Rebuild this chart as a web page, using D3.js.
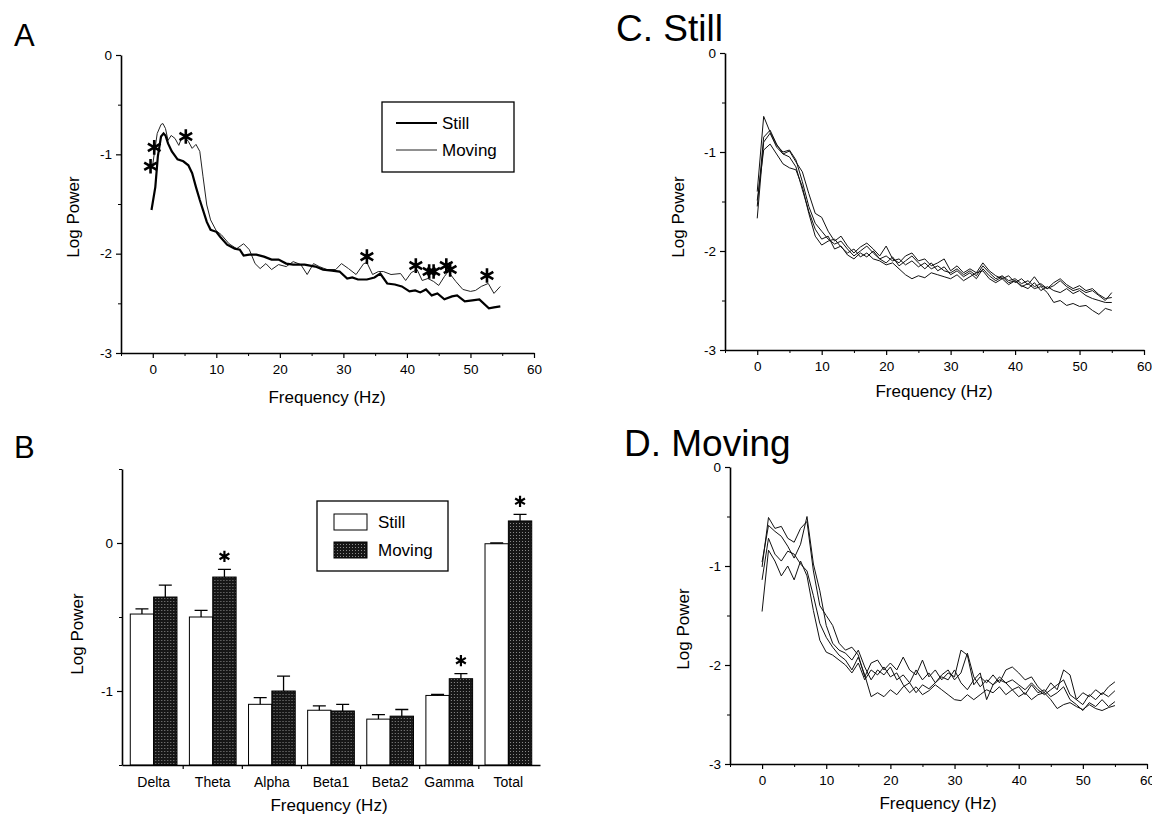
<!DOCTYPE html>
<html>
<head>
<meta charset="utf-8">
<script src="https://cdn.jsdelivr.net/npm/d3@7.9.0/dist/d3.min.js"></script>
<style>
body { margin: 0; background: #fff; }
svg { display: block; font-family: "Liberation Sans", Arial, sans-serif; }
</style>
</head>
<body>
<svg id="fig" width="1152" height="814"></svg>
<script>
// ---- Panel A: mean spectra, [frequency, log power] ----
const stillA = [
  [-0.2,-1.56],[0.4,-1.33],[0.8,-1.02],[1.3,-0.82],[1.7,-0.79],[2.0,-0.81],[2.4,-0.89],[3.0,-0.97],
  [3.9,-1.05],[4.8,-1.07],[5.6,-1.11],[6.2,-1.19],[6.8,-1.33],[7.4,-1.46],[7.9,-1.56],[8.5,-1.68],
  [9.1,-1.76],[10,-1.78],[10.6,-1.83],[11.7,-1.91],[12.9,-1.95],[13.7,-1.96],[14.3,-2.02],[15.2,-2.01],
  [16.3,-2.01],[17.5,-2.03],[18.7,-2.06],[19.8,-2.06],[21,-2.10],[22.1,-2.11],[23.9,-2.11],[25.6,-2.13],
  [26.8,-2.16],[28.2,-2.17],[29.4,-2.18],[30.6,-2.25],[31.4,-2.24],[32.3,-2.26],[33.7,-2.26],[34.9,-2.24],
  [35.8,-2.20],[36.9,-2.30],[38.1,-2.31],[39.2,-2.33],[40.4,-2.38],[41.3,-2.37],[42.1,-2.39],[43,-2.36],
  [43.9,-2.42],[44.8,-2.40],[45.9,-2.46],[47.1,-2.43],[47.9,-2.42],[49.1,-2.48],[50.3,-2.47],[51.4,-2.46],
  [52.9,-2.55],[53.7,-2.54],[54.7,-2.53]
];
const movingA = [
  [0,-1.10],[0.7,-0.79],[1.3,-0.70],[1.6,-0.69],[2.0,-0.74],[2.4,-0.86],[2.9,-0.81],[3.5,-0.84],
  [4.1,-0.91],[4.5,-0.84],[5.0,-0.82],[5.6,-0.87],[6.2,-0.94],[6.8,-0.90],[7.4,-0.97],[7.9,-1.22],
  [8.5,-1.51],[9.1,-1.66],[10,-1.77],[10.8,-1.81],[12,-1.90],[13.2,-1.95],[14.3,-1.90],[15.2,-1.96],
  [16.1,-2.10],[16.9,-2.15],[17.8,-2.10],[18.7,-2.16],[19.8,-2.11],[21,-2.13],[22.1,-2.08],[23.3,-2.11],
  [24.3,-2.21],[25.3,-2.10],[26.2,-2.13],[27.4,-2.16],[28.8,-2.16],[29.7,-2.10],[30.8,-2.15],[32,-2.21],
  [33.2,-2.10],[33.7,-2.09],[34.6,-2.21],[35.5,-2.18],[36.3,-2.18],[37.5,-2.21],[39,-2.20],[39.8,-2.27],
  [40.7,-2.19],[41.6,-2.16],[42.4,-2.27],[43.3,-2.25],[44.2,-2.28],[45,-2.32],[45.9,-2.23],[46.5,-2.18],
  [47.7,-2.28],[48.8,-2.36],[50,-2.38],[50.8,-2.37],[51.7,-2.33],[52.8,-2.30],[53.7,-2.40],[54.7,-2.33]
];
const starsA = [
  [-0.35,-1.12],[0.23,-0.93],[5.2,-0.82],[33.7,-2.03],[41.4,-2.12],
  [43.5,-2.18],[44.2,-2.18],[46.2,-2.12],[46.8,-2.16],[52.6,-2.22]
];

// ---- Panel B: band power, mean and error ----
const bands = ['Delta', 'Theta', 'Alpha', 'Beta1', 'Beta2', 'Gamma', 'Total'];
const stillMean = [-0.48, -0.50, -1.09, -1.13, -1.19, -1.03, -0.005];
const stillErr = [0.035, 0.045, 0.045, 0.03, 0.03, 0.007, 0.005];
const movingMean = [-0.365, -0.23, -1.00, -1.135, -1.17, -0.917, 0.149];
const movingErr = [0.08, 0.052, 0.10, 0.045, 0.045, 0.034, 0.045];
const starBands = ['Theta', 'Gamma', 'Total'];

// ---- Panels C and D: individual spectra at 1 Hz steps ----
const freqs = [0,1,2,3,4,5,6,7,8,9,10,11,12,13,14,15,16,17,18,19,20,21,22,23,24,25,26,27,
  28,29,30,31,32,33,34,35,36,37,38,39,40,41,42,43,44,45,46,47,48,49,50,51,52,53,54,55];

const stillRuns = [
  [-1.40,-0.64,-0.80,-0.93,-1.00,-0.98,-1.08,-1.30,-1.55,-1.72,-1.80,-1.88,-1.93,-1.90,-1.98,-2.05,
   -2.00,-1.95,-2.02,-2.08,-2.05,-2.10,-2.08,-2.14,-2.10,-2.16,-2.12,-2.18,-2.15,-2.20,-2.22,-2.18,
   -2.24,-2.20,-2.25,-2.15,-2.22,-2.28,-2.25,-2.30,-2.28,-2.33,-2.30,-2.36,-2.33,-2.38,-2.35,-2.30,
   -2.36,-2.40,-2.38,-2.42,-2.40,-2.45,-2.50,-2.42],
  [-1.55,-0.85,-0.78,-0.92,-1.02,-0.99,-1.10,-1.20,-1.42,-1.62,-1.66,-1.80,-1.90,-1.85,-1.95,-2.02,
   -1.96,-1.92,-1.98,-2.05,-1.95,-2.08,-2.12,-2.05,-2.02,-2.10,-2.08,-2.15,-2.12,-2.08,-2.20,-2.15,
   -2.22,-2.18,-2.22,-2.12,-2.20,-2.25,-2.28,-2.25,-2.32,-2.28,-2.34,-2.26,-2.35,-2.38,-2.32,-2.28,
   -2.34,-2.38,-2.35,-2.40,-2.38,-2.44,-2.48,-2.47],
  [-1.67,-0.90,-0.81,-0.95,-1.02,-1.05,-1.15,-1.38,-1.60,-1.78,-1.88,-1.85,-1.98,-1.95,-2.04,-2.08,
   -2.02,-2.06,-2.00,-2.08,-2.12,-2.06,-2.15,-2.10,-2.05,-2.12,-2.18,-2.12,-2.20,-2.16,-2.24,-2.20,
   -2.26,-2.22,-2.28,-2.18,-2.25,-2.30,-2.26,-2.32,-2.30,-2.35,-2.38,-2.32,-2.40,-2.36,-2.40,-2.42,
   -2.38,-2.43,-2.40,-2.45,-2.48,-2.50,-2.52,-2.52],
  [-1.49,-0.98,-0.92,-1.02,-1.12,-1.16,-1.18,-1.35,-1.62,-1.85,-1.94,-1.90,-1.88,-1.96,-2.02,-1.98,
   -2.06,-2.02,-2.08,-2.10,-2.14,-2.12,-2.18,-2.24,-2.28,-2.25,-2.27,-2.22,-2.24,-2.26,-2.28,-2.24,
   -2.30,-2.26,-2.22,-2.20,-2.28,-2.32,-2.28,-2.34,-2.30,-2.36,-2.33,-2.38,-2.36,-2.42,-2.52,-2.50,
   -2.55,-2.53,-2.56,-2.55,-2.60,-2.64,-2.58,-2.60]
];

const movingRuns = [
  [-1.01,-0.51,-0.62,-0.60,-0.72,-0.76,-0.62,-0.55,-1.05,-1.40,-1.50,-1.60,-1.78,-1.85,-1.82,-1.90,
   -2.12,-1.98,-1.95,-2.05,-1.98,-2.05,-1.92,-2.05,-2.10,-1.95,-2.12,-2.05,-2.15,-2.08,-2.12,-1.85,
   -1.90,-2.20,-2.12,-2.18,-2.10,-2.18,-2.05,-2.02,-2.08,-2.15,-2.12,-2.22,-2.28,-2.18,-2.25,-2.05,
   -2.10,-2.35,-2.28,-2.32,-2.25,-2.30,-2.22,-2.17],
  [-0.96,-0.59,-0.65,-0.70,-0.80,-0.92,-0.78,-0.50,-0.98,-1.25,-1.60,-1.78,-1.85,-1.88,-1.95,-1.85,
   -2.02,-2.15,-2.05,-2.10,-2.02,-2.15,-2.10,-2.18,-2.05,-2.15,-2.08,-2.18,-2.10,-2.05,-2.15,-2.08,
   -1.88,-2.12,-2.22,-2.15,-2.20,-2.12,-2.18,-2.15,-2.20,-2.25,-2.18,-2.25,-2.30,-2.25,-2.20,-2.15,
   -2.30,-2.35,-2.40,-2.30,-2.35,-2.28,-2.32,-2.26],
  [-1.14,-0.72,-0.88,-0.95,-0.85,-0.88,-0.98,-1.05,-1.30,-1.58,-1.72,-1.82,-1.90,-1.95,-2.05,-1.92,
   -2.10,-2.32,-2.28,-2.32,-2.25,-2.30,-2.22,-2.18,-2.28,-2.20,-2.24,-2.18,-2.12,-2.15,-2.05,-2.18,
   -2.25,-2.15,-2.08,-2.35,-2.20,-2.15,-2.18,-2.25,-2.22,-2.30,-2.20,-2.28,-2.25,-2.32,-2.28,-2.22,
   -2.35,-2.40,-2.46,-2.38,-2.42,-2.35,-2.42,-2.37],
  [-1.46,-0.84,-0.95,-1.10,-1.00,-1.14,-0.95,-1.10,-1.45,-1.75,-1.87,-1.90,-1.95,-2.00,-2.08,-1.98,
   -2.15,-2.05,-2.10,-2.02,-2.12,-2.08,-2.20,-2.28,-2.22,-2.30,-2.26,-2.20,-2.25,-2.30,-2.35,-2.36,
   -2.30,-2.35,-2.30,-2.25,-2.28,-2.22,-2.30,-2.25,-2.32,-2.28,-2.35,-2.30,-2.28,-2.35,-2.44,-2.40,
   -2.38,-2.42,-2.45,-2.40,-2.44,-2.46,-2.43,-2.41]
];

const yMajor = [0, -1, -2, -3];
const yMinor = [-0.5, -1.5, -2.5];
const xMajor = [0, 10, 20, 30, 40, 50, 60];
const xMinor = [-5, 5, 15, 25, 35, 45, 55];

const svg = d3.select('#fig');

// pattern for the stippled "Moving" bars
const defs = svg.append('defs');
const pat = defs.append('pattern')
  .attr('id', 'stipple')
  .attr('width', 3).attr('height', 3)
  .attr('patternUnits', 'userSpaceOnUse');
pat.append('rect').attr('width', 3).attr('height', 3).attr('fill', '#161616');
pat.append('rect').attr('x', 1).attr('y', 1).attr('width', 1).attr('height', 1).attr('fill', '#8a8a8a');

function styleAxis(g, size) {
  g.select('.domain').attr('stroke', '#000').attr('stroke-width', 1.6);
  g.selectAll('.tick line').attr('stroke', '#000').attr('stroke-width', 1.2);
  g.selectAll('.tick text')
    .attr('font-family', '"Liberation Sans", Arial, sans-serif')
    .attr('font-size', size)
    .attr('fill', '#000');
}

// spectrum panel (A, C, D): returns scales
function spectrumPanel(box) {
  const x = d3.scaleLinear().domain([-5, 60]).range([box.left, box.right]);
  const y = d3.scaleLinear().domain([-3, 0]).range([box.bottom, box.top]);

  const xa = svg.append('g')
    .attr('transform', `translate(0,${box.bottom})`)
    .call(d3.axisBottom(x).tickValues(xMajor).tickFormat(String).tickSize(5).tickSizeOuter(0).tickPadding(6));
  styleAxis(xa, 13.5);
  svg.append('g')
    .attr('transform', `translate(0,${box.bottom})`)
    .call(d3.axisBottom(x).tickValues(xMinor).tickFormat('').tickSize(3).tickSizeOuter(0))
    .call(g => g.select('.domain').remove())
    .call(g => g.selectAll('line').attr('stroke', '#000'));

  const ya = svg.append('g')
    .attr('transform', `translate(${box.left},0)`)
    .call(d3.axisLeft(y).tickValues(yMajor).tickFormat(String).tickSize(5).tickSizeOuter(0).tickPadding(4));
  styleAxis(ya, 13.5);
  svg.append('g')
    .attr('transform', `translate(${box.left},0)`)
    .call(d3.axisLeft(y).tickValues(yMinor).tickFormat('').tickSize(3).tickSizeOuter(0))
    .call(g => g.select('.domain').remove())
    .call(g => g.selectAll('line').attr('stroke', '#000'));

  svg.append('text')
    .attr('transform', `translate(${box.ylabX},${box.ylabY}) rotate(-90)`)
    .attr('text-anchor', 'middle')
    .attr('font-size', 17)
    .text('Log Power');
  svg.append('text')
    .attr('x', box.xlabX).attr('y', box.xlabY)
    .attr('text-anchor', 'middle')
    .attr('font-size', 17)
    .text('Frequency (Hz)');
  return { x, y };
}

// ---------- Panel A ----------
svg.append('text').attr('x', 14).attr('y', 46).attr('font-size', 31).text('A');
const A = spectrumPanel({ left: 121, right: 534, top: 55, bottom: 353,
  ylabX: 79, ylabY: 217, xlabX: 327, xlabY: 403 });
const lineA = d3.line().x(d => A.x(d[0])).y(d => A.y(d[1]));
svg.append('path').datum(movingA).attr('d', lineA)
  .attr('fill', 'none').attr('stroke', '#222').attr('stroke-width', 1);
svg.append('path').datum(stillA).attr('d', lineA)
  .attr('fill', 'none').attr('stroke', '#000').attr('stroke-width', 2.2);
svg.append('g').selectAll('path')
  .data(starsA)
  .join('path')
  .attr('transform', d => `translate(${A.x(d[0])},${A.y(d[1])})`)
  .attr('d', d3.symbol(d3.symbolAsterisk, 150))
  .attr('stroke', '#000').attr('stroke-width', 2.6).attr('fill', 'none');

// legend A
const legA = svg.append('g');
legA.append('rect').attr('x', 382).attr('y', 102).attr('width', 132).attr('height', 70)
  .attr('fill', '#fff').attr('stroke', '#000').attr('stroke-width', 1.3);
legA.append('line').attr('x1', 396).attr('x2', 437).attr('y1', 123).attr('y2', 123)
  .attr('stroke', '#000').attr('stroke-width', 2.2);
legA.append('line').attr('x1', 396).attr('x2', 437).attr('y1', 150).attr('y2', 150)
  .attr('stroke', '#222').attr('stroke-width', 1);
legA.append('text').attr('x', 442).attr('y', 129).attr('font-size', 17).text('Still');
legA.append('text').attr('x', 442).attr('y', 156).attr('font-size', 17).text('Moving');

// ---------- Panel B ----------
svg.append('text').attr('x', 14).attr('y', 458).attr('font-size', 31).text('B');
const bTop = 469, bBottom = 765, bLeft = 122, bRight = 540;
const xB = d3.scaleBand().domain(bands).range([bLeft, bRight]).paddingInner(0.21).paddingOuter(0.14);
const xSub = d3.scaleBand().domain(['still', 'moving']).range([0, xB.bandwidth()]);
const yB = d3.scaleLinear().domain([-1.5, 0.5]).range([bBottom, bTop]);

const groups = bands.map((b, i) => ({
  band: b,
  bars: [
    { key: 'still', mean: stillMean[i], err: stillErr[i] },
    { key: 'moving', mean: movingMean[i], err: movingErr[i] }
  ]
}));

const gB = svg.append('g');
const grp = gB.selectAll('g.grp').data(groups).join('g')
  .attr('class', 'grp')
  .attr('transform', d => `translate(${xB(d.band)},0)`);
grp.selectAll('rect').data(d => d.bars).join('rect')
  .attr('x', d => xSub(d.key))
  .attr('width', xSub.bandwidth())
  .attr('y', d => yB(d.mean))
  .attr('height', d => yB(-1.5) - yB(d.mean))
  .attr('fill', d => d.key === 'still' ? '#fff' : 'url(#stipple)')
  .attr('stroke', '#000').attr('stroke-width', 1);
// error bars
grp.selectAll('path.err').data(d => d.bars).join('path')
  .attr('class', 'err')
  .attr('d', d => {
    const cx = xSub(d.key) + xSub.bandwidth() / 2;
    const y0 = yB(d.mean), y1 = yB(d.mean + d.err);
    return `M${cx},${y0}V${y1}M${cx - 6.5},${y1}H${cx + 6.5}`;
  })
  .attr('stroke', '#000').attr('stroke-width', 1.3).attr('fill', 'none');
// significance stars
grp.filter(d => starBands.includes(d.band))
  .append('path')
  .attr('transform', d => {
    const m = d.bars[1];
    return `translate(${xSub('moving') + xSub.bandwidth() / 2},${yB(m.mean + m.err) - 13})`;
  })
  .attr('d', d3.symbol(d3.symbolAsterisk, 90))
  .attr('stroke', '#000').attr('stroke-width', 2.2).attr('fill', 'none');

const xaB = gB.append('g')
  .attr('transform', `translate(0,${bBottom})`)
  .call(d3.axisBottom(xB).tickSize(0).tickPadding(12).tickSizeOuter(0));
styleAxis(xaB, 14);
// tick marks between groups
gB.append('g').selectAll('line')
  .data(bands.slice(1))
  .join('line')
  .attr('x1', d => xB(d) - xB.step() * xB.paddingInner() / 2)
  .attr('x2', d => xB(d) - xB.step() * xB.paddingInner() / 2)
  .attr('y1', bBottom).attr('y2', bBottom + 4)
  .attr('stroke', '#000').attr('stroke-width', 1.2);

const yaB = gB.append('g')
  .attr('transform', `translate(${bLeft},0)`)
  .call(d3.axisLeft(yB).tickValues([0, -1]).tickFormat(String).tickSize(5).tickSizeOuter(0).tickPadding(4));
styleAxis(yaB, 13.5);
gB.append('g')
  .attr('transform', `translate(${bLeft},0)`)
  .call(d3.axisLeft(yB).tickValues([0.5, -0.5, -1.5]).tickFormat('').tickSize(3).tickSizeOuter(0))
  .call(g => g.select('.domain').remove())
  .call(g => g.selectAll('line').attr('stroke', '#000'));

svg.append('text')
  .attr('transform', 'translate(83,634) rotate(-90)')
  .attr('text-anchor', 'middle').attr('font-size', 17).text('Log Power');
svg.append('text').attr('x', 329).attr('y', 811)
  .attr('text-anchor', 'middle').attr('font-size', 17).text('Frequency (Hz)');

// legend B
const legB = svg.append('g');
legB.append('rect').attr('x', 317).attr('y', 501).attr('width', 131).attr('height', 70)
  .attr('fill', '#fff').attr('stroke', '#000').attr('stroke-width', 1.3);
legB.append('rect').attr('x', 334).attr('y', 514).attr('width', 33).attr('height', 16)
  .attr('fill', '#fff').attr('stroke', '#000').attr('stroke-width', 1);
legB.append('rect').attr('x', 334).attr('y', 542).attr('width', 33).attr('height', 16)
  .attr('fill', 'url(#stipple)').attr('stroke', '#000').attr('stroke-width', 1);
legB.append('text').attr('x', 378).attr('y', 528).attr('font-size', 17).text('Still');
legB.append('text').attr('x', 378).attr('y', 556).attr('font-size', 17).text('Moving');

// ---------- Panels C and D ----------
function drawRuns(panel, runs) {
  const line = d3.line().x((d, i) => panel.x(freqs[i])).y(d => panel.y(d));
  svg.append('g').selectAll('path')
    .data(runs)
    .join('path')
    .attr('d', line)
    .attr('fill', 'none').attr('stroke', '#111').attr('stroke-width', 1);
}

svg.append('text').attr('x', 616).attr('y', 41).attr('font-size', 37).text('C. Still');
const C = spectrumPanel({ left: 725, right: 1144, top: 53, bottom: 350,
  ylabX: 684, ylabY: 217, xlabX: 934, xlabY: 397 });
drawRuns(C, stillRuns);

svg.append('text').attr('x', 624).attr('y', 456).attr('font-size', 37).text('D. Moving');
const D = spectrumPanel({ left: 730, right: 1147, top: 467, bottom: 764,
  ylabX: 689, ylabY: 629, xlabX: 938, xlabY: 809 });
drawRuns(D, movingRuns);
</script>
</body>
</html>
